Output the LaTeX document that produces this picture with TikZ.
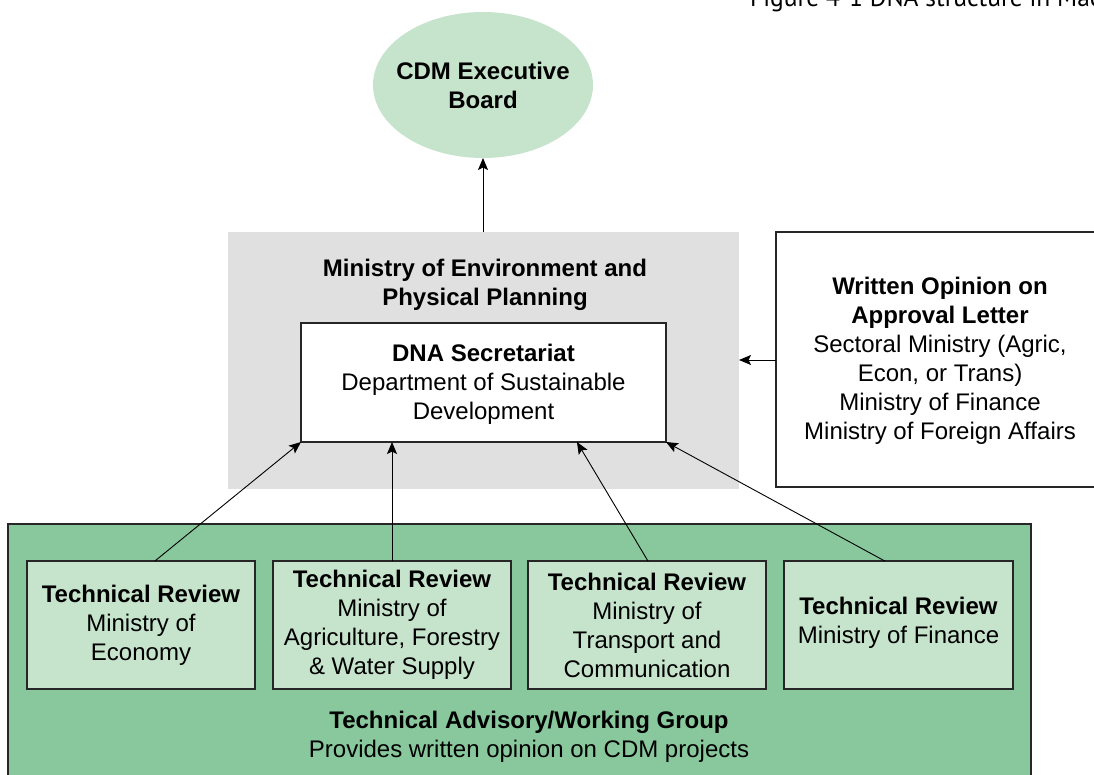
\documentclass[tikz,border=0pt]{standalone}
\usepackage{fontspec}
\setmainfont{Liberation Sans}
\newfontfamily\captionfont{PT Sans}
\usetikzlibrary{shapes.geometric,arrows.meta,calc}

\definecolor{paleGreen}{RGB}{198,227,204}
\definecolor{midGreen}{RGB}{136,200,156}
\definecolor{panelGray}{RGB}{224,224,224}

\tikzset{
  base/.style={inner sep=0pt, outer sep=0pt, font=\fontsize{24}{29}\selectfont, align=center},
  board/.style={base, ellipse, fill=paleGreen, minimum width=220pt, minimum height=146pt},
  panel/.style={base, rectangle, fill=panelGray, anchor=north west},
  framed/.style={base, rectangle, draw=black!85, line width=1.1pt, anchor=north west},
  review/.style={framed, fill=paleGreen, minimum height=128pt},
  label/.style={base},
  arr/.style={line width=0.9pt, -{Stealth[length=12pt,width=10pt,inset=2.5pt]}}
}

\begin{document}
\begin{tikzpicture}[x=1pt,y=-1pt]
\useasboundingbox (0,0) rectangle (1094,775);
\clip (0,0) rectangle (1094,775);

% caption line at the top edge
\node[anchor=base west, inner sep=0pt, font=\captionfont\fontsize{25.5}{28}\selectfont]
  (caption) at (750,7) {Figure 4-1 DNA structure in Mac};

% executive board
\node[board] (eb) at (483,85) {};
\node[label] (ebT) at (483,85) {\textbf{CDM Executive}\\\textbf{Board}};

% ministry panel with the secretariat inside
\node[panel, minimum width=511pt, minimum height=257pt] (moepp) at (228,232) {};
\node[label] (moeppT) at (485,285) {\textbf{Ministry of Environment and}\\\textbf{Physical Planning}};
\node[framed, fill=white, minimum width=365pt, minimum height=119pt] (dna) at (301,323) {};
\node[label] (dnaT) at (483.5,384) {\textbf{DNA Secretariat}\\Department of Sustainable\\Development};

% written opinion box
\node[framed, fill=white, minimum width=330pt, minimum height=255pt] (opinion) at (776,232) {};
\node[label] (opinionT) at (940,361) {\textbf{Written Opinion on}\\\textbf{Approval Letter}\\Sectoral Ministry (Agric,\\Econ, or Trans)\\Ministry of Finance\\Ministry of Foreign Affairs};

% technical advisory group
\node[framed, fill=midGreen, minimum width=1023pt, minimum height=270pt] (tawg) at (8,524) {};
\node[review, minimum width=228pt] (tr1) at (27,561) {};
\node[review, minimum width=238pt] (tr2) at (273,561) {};
\node[review, minimum width=238pt] (tr3) at (528,561) {};
\node[review, minimum width=229pt] (tr4) at (784,561) {};
\node[label] (tr1T) at (tr1.center) {\textbf{Technical Review}\\Ministry of\\Economy};
\node[label] (tr2T) at (tr2.center) {\textbf{Technical Review}\\Ministry of\\Agriculture, Forestry\\\& Water Supply};
\node[label] (tr3T) at (tr3.center) {\textbf{Technical Review}\\Ministry of\\Transport and\\Communication};
\node[label] (tr4T) at ($(tr4.center)+(0,-2)$) {\textbf{Technical Review}\\Ministry of Finance};
\node[label] (tawgT) at (529,737) {\textbf{Technical Advisory/Working Group}\\Provides written opinion on CDM projects};

% connectors
\draw[arr] (moepp.north -| eb.south) -- (eb.south);
\draw[arr] (opinion.west |- 0,360) -- (moepp.east |- 0,360);
\draw[arr] ($(tr1.north west)!0.561!(tr1.north east)$) -- (dna.south west);
\draw[arr] (tr2.north) -- (tr2.north |- dna.south);
\draw[arr] ($(tr3.north west)!0.504!(tr3.north east)$) -- ($(dna.south west)!0.756!(dna.south east)$);
\draw[arr] ($(tr4.north west)!0.44!(tr4.north east)$) -- (dna.south east);
\end{tikzpicture}
\end{document}
